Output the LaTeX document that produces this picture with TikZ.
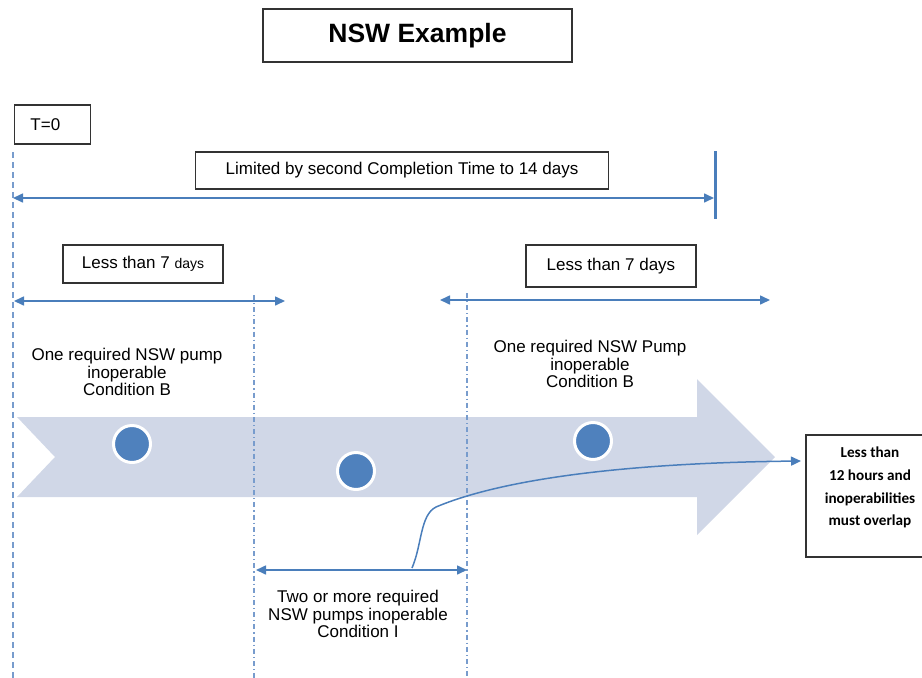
\documentclass[tikz,border=0pt]{standalone}
\usepackage{fontspec}
\setmainfont{Liberation Sans}
\newfontfamily\calfont{Carlito}
\usetikzlibrary{arrows.meta}
\definecolor{lineblue}{RGB}{74,126,187}
\definecolor{dashblue}{RGB}{120,156,205}
\definecolor{bandfill}{RGB}{208,215,231}
\definecolor{dotblue}{RGB}{79,129,189}
\begin{document}
\begin{tikzpicture}[x=1pt,y=-1pt,
  box/.style={draw=black!80, line width=1.4pt, inner sep=0pt, fill=white},
  txt/.style={align=center, inner sep=0pt, font=\fontsize{17}{17.5}\selectfont},
  dot/.style={circle, fill=dotblue, draw=white, line width=3pt, minimum size=37pt, inner sep=0pt},
  dblarrow/.style={draw=lineblue, line width=1.6pt, {Triangle[length=10pt,width=9pt]}-{Triangle[length=10pt,width=9pt]}},
  dashv/.style={draw=dashblue, line width=1.5pt, dash pattern=on 6pt off 4pt},
  dashdotv/.style={draw=dashblue, line width=1.2pt, dash pattern=on 5pt off 3pt on 1.2pt off 3pt}]
\useasboundingbox (0,0) rectangle (922,678);
\clip (0,0) rectangle (922,678);

% big band arrow
\fill[bandfill] (17,417) -- (697,417) -- (697,379) -- (775,457) -- (697,535) -- (697,497) -- (17,497) -- (55,457) -- cycle;

% vertical guide lines
\coordinate (v0t) at (13,152); \coordinate (v0b) at (13,678);
\coordinate (v1t) at (254,295); \coordinate (v1b) at (254,678);
\coordinate (v2t) at (467,293); \coordinate (v2b) at (467,678);
\draw[dashv] (v0t) -- (v0b);
\draw[dashdotv] (v1t) -- (v1b);
\draw[dashdotv] (v2t) -- (v2b);

% end bar at 14 days
\coordinate (bart) at (715,151); \coordinate (barb) at (715,219);
\draw[draw=lineblue, line width=3pt] (bart) -- (barb);

% boxes
\node[box, line width=2pt, minimum width=309pt, minimum height=53pt, font=\bfseries\fontsize{26.5}{30}\selectfont] (title) at (417.5,35.5) {NSW Example};
\node[box, minimum height=39pt, text width=44pt, align=left, inner xsep=16pt, font=\fontsize{17}{17}\selectfont] (t0) at (52.5,124.5) {T=0};
\node[box, minimum width=413pt, minimum height=37pt, font=\fontsize{17}{17}\selectfont] (lim) at (402,170.5) {Limited by second Completion Time to 14 days};
\node[box, minimum width=160pt, minimum height=38pt, font=\fontsize{17}{17}\selectfont] (l7a) at (143,264) {Less than 7 {\fontsize{14}{14}\selectfont days}};
\node[box, minimum width=170pt, minimum height=42pt, font=\fontsize{17}{17}\selectfont] (l7b) at (611,266) {Less than 7 days};

% duration arrows
\coordinate (a1l) at (13,198); \coordinate (a1r) at (714,198);
\coordinate (a2l) at (14,301); \coordinate (a2r) at (285,301);
\coordinate (a3l) at (440,300); \coordinate (a3r) at (770,300);
\coordinate (a4l) at (256,570); \coordinate (a4r) at (467,570);
\draw[dblarrow] (a1l) -- (a1r);
\draw[dblarrow] (a2l) -- (a2r);
\draw[dblarrow] (a3l) -- (a3r);
\draw[dblarrow] (a4l) -- (a4r);

% dots
\node[dot] (c1) at (132,444) {};
\node[dot] (c2) at (356,471) {};
\node[dot] (c3) at (593,441) {};

% labels
\node[txt] (tl) at (127,372) {One required NSW pump\\inoperable\\Condition B};
\node[txt] (tr) at (590,364) {One required NSW Pump\\inoperable\\Condition B};
\node[txt] (tb) at (358,614) {Two or more required\\NSW pumps inoperable\\Condition I};

% right box
\node[box, minimum width=128pt, minimum height=122pt] (rb) at (870,496) {};
\node[align=center, inner sep=0pt, font=\calfont\bfseries\fontsize{15.2}{22.8}\selectfont] (rbt) at (870,487.5) {Less than\\12 hours and\\inoperabilities\\must overlap};

% overlap curve
\coordinate (cs) at (412,568);
\coordinate (ce) at (801,461);
\draw[draw=lineblue, line width=1.5pt, -{Triangle[length=10pt,width=9pt]}] (cs) .. controls (422,545) and (420,515) .. (436,507) .. controls (500,480) and (620,463) .. (ce);
\end{tikzpicture}
\end{document}
